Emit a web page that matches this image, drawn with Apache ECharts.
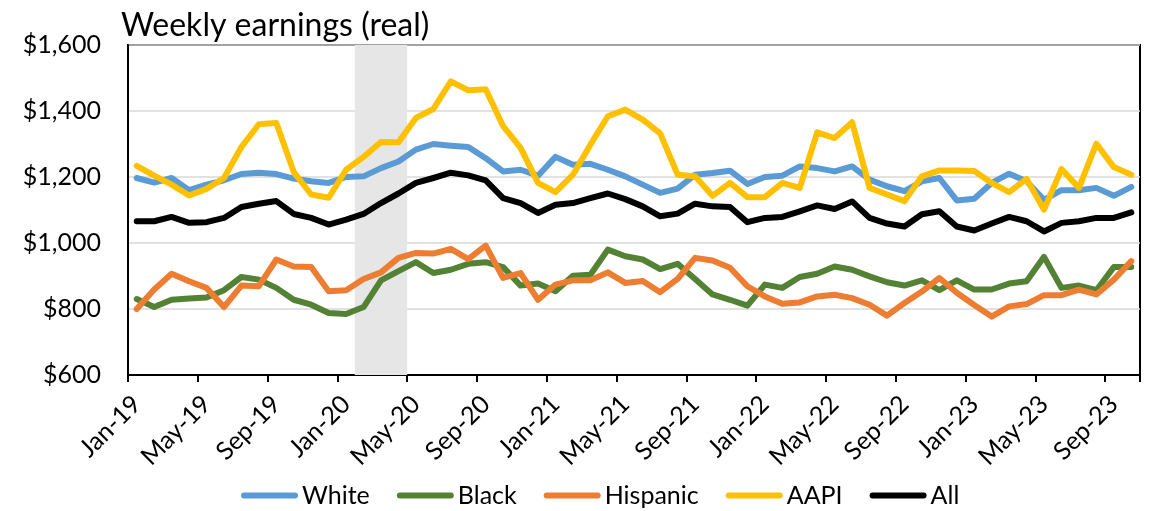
<!DOCTYPE html>
<html>
<head>
<meta charset="utf-8">
<script src="https://cdn.jsdelivr.net/npm/echarts@6/dist/echarts.min.js"></script>
<style>html,body{margin:0;padding:0;background:#fff}#c{width:1154px;height:511px}</style>
</head>
<body>
<div id="c"></div>
<script>
const months = [
  'Jan-19','Feb-19','Mar-19','Apr-19','May-19','Jun-19','Jul-19','Aug-19','Sep-19','Oct-19','Nov-19','Dec-19',
  'Jan-20','Feb-20','Mar-20','Apr-20','May-20','Jun-20','Jul-20','Aug-20','Sep-20','Oct-20','Nov-20','Dec-20',
  'Jan-21','Feb-21','Mar-21','Apr-21','May-21','Jun-21','Jul-21','Aug-21','Sep-21','Oct-21','Nov-21','Dec-21',
  'Jan-22','Feb-22','Mar-22','Apr-22','May-22','Jun-22','Jul-22','Aug-22','Sep-22','Oct-22','Nov-22','Dec-22',
  'Jan-23','Feb-23','Mar-23','Apr-23','May-23','Jun-23','Jul-23','Aug-23','Sep-23','Oct-23'
];
const white = [1197,1183,1197,1160,1177,1190,1209,1213,1209,1195,1187,1182,1200,1202,1227,1247,1283,1300,1295,1291,1257,1217,1222,1204,1261,1237,1240,1222,1202,1177,1152,1165,1207,1212,1219,1179,1200,1204,1232,1227,1217,1232,1192,1172,1157,1187,1197,1129,1134,1182,1210,1187,1131,1160,1160,1167,1143,1170];
const black = [830,806,828,832,835,857,897,889,864,828,813,788,785,806,887,915,942,909,919,937,942,927,871,877,854,901,904,980,960,950,921,937,891,844,828,810,874,864,897,907,929,919,899,881,871,887,857,887,859,859,877,884,958,864,871,857,927,927];
const hispanic = [800,859,907,884,864,806,871,869,950,929,927,854,857,891,911,955,970,968,982,951,992,894,909,828,874,887,887,911,879,885,851,891,955,947,925,869,838,816,820,838,843,833,813,780,818,853,894,849,812,777,808,815,842,842,859,844,889,945];
const aapi = [1234,1204,1177,1144,1164,1197,1291,1360,1364,1215,1147,1137,1222,1261,1306,1305,1379,1406,1490,1463,1466,1354,1288,1182,1154,1207,1298,1384,1404,1374,1332,1207,1202,1143,1182,1139,1139,1182,1167,1335,1318,1366,1167,1147,1127,1202,1220,1220,1218,1182,1154,1194,1101,1224,1167,1301,1230,1207];
const all = [1066,1066,1079,1061,1063,1076,1109,1119,1127,1088,1076,1056,1071,1088,1121,1150,1182,1197,1213,1205,1190,1136,1121,1091,1116,1121,1136,1150,1133,1111,1081,1089,1119,1111,1109,1063,1076,1079,1096,1114,1103,1126,1076,1059,1050,1087,1096,1050,1038,1059,1079,1066,1035,1061,1066,1076,1076,1093];
const recession = ['Feb-20','Apr-20'];
const yTicks = [600, 800, 1000, 1200, 1400, 1600];

const FONT = 'Lato';
const recStart = months.indexOf(recession[0]);
const recEnd = months.indexOf(recession[1]) + 1;

function lineSeries(name, data, color) {
  return {
    name: name, type: 'line', data: data, symbol: 'none',
    xAxisIndex: 0, yAxisIndex: 0,
    lineStyle: { color: color, width: 6, cap: 'round', join: 'round' },
    itemStyle: { color: color },
    emphasis: { disabled: true },
    z: 3
  };
}

const chart = echarts.init(document.getElementById('c'));
chart.setOption({
  animation: false,
  backgroundColor: '#fff',
  textStyle: { fontFamily: FONT },
  title: {
    text: 'Weekly earnings (real)', left: 116, top: 5,
    textStyle: { fontFamily: FONT, fontSize: 32, fontWeight: 'normal', color: '#000' }
  },
  legend: {
    data: ['White', 'Black', 'Hispanic', 'AAPI', 'All'],
    left: 236, top: 478,
    itemWidth: 57, itemHeight: 6, itemGap: 27,
    icon: 'path://M3,0L54,0A3,3,0,0,1,54,6L3,6A3,3,0,0,1,3,0Z',
    textStyle: { fontFamily: FONT, fontSize: 25, color: '#000', padding: [0, 0, 0, -1] }
  },
  grid: {
    left: 128, right: 14, top: 45, bottom: 136,
    show: true, borderColor: '#000', borderWidth: 2
  },
  xAxis: [
    {
      type: 'category', data: months, boundaryGap: true,
      axisLine: { show: true, lineStyle: { color: '#000', width: 2 } },
      axisTick: { show: true, interval: 3, length: 7, lineStyle: { color: '#000', width: 2 } },
      axisLabel: { interval: 3, rotate: 45, fontFamily: FONT, fontSize: 25, color: '#000', margin: 25 },
      splitLine: { show: false }
    },
    { type: 'value', min: 0, max: months.length, show: false }
  ],
  yAxis: {
    type: 'value', min: yTicks[0], max: yTicks[yTicks.length - 1], interval: 200,
    axisLine: { show: true, lineStyle: { color: '#000', width: 2 } },
    axisTick: { show: false },
    axisLabel: {
      fontFamily: FONT, fontSize: 25, color: '#000', margin: 27,
      formatter: function (v) { return '$' + v.toLocaleString('en-US'); }
    },
    splitLine: { show: true, lineStyle: { color: '#d9d9d9', width: 1.5 } }
  },
  series: [
    {
      name: 'recession', type: 'line', xAxisIndex: 1, yAxisIndex: 0, data: [],
      silent: true, z: 1,
      markArea: {
        silent: true,
        itemStyle: { color: '#e6e6e6' },
        data: [[{ xAxis: recStart }, { xAxis: recEnd }]]
      }
    },
    lineSeries('White', white, '#5B9BD5'),
    lineSeries('Black', black, '#548235'),
    lineSeries('Hispanic', hispanic, '#ED7D31'),
    lineSeries('AAPI', aapi, '#FFC000'),
    lineSeries('All', all, '#000000')
  ]
});
</script>
</body>
</html>
